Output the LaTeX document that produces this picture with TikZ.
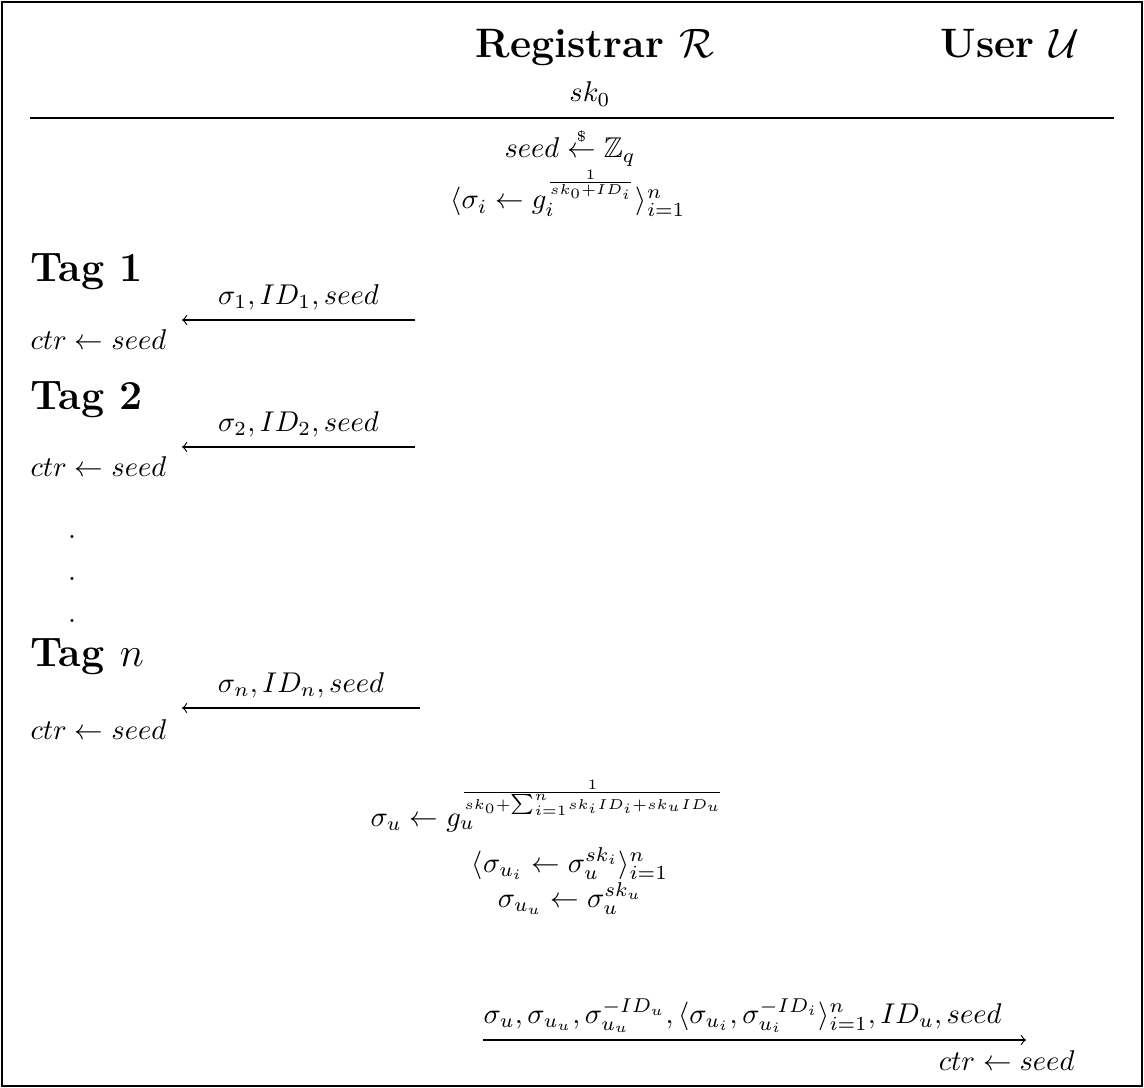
\documentclass[tikz,border=0pt]{standalone}
\usepackage{amsmath, amssymb}
\usepackage{tikz}
\usetikzlibrary{positioning}

\begin{document}
\begin{tikzpicture}[x=0.35pt, y=-0.35pt]
    % Styles
    \tikzstyle{party} = [font=\Large\bfseries, anchor=base, inner sep=0pt]
    \tikzstyle{tagname} = [font=\Large\bfseries, anchor=base west, inner sep=0pt]
    \tikzstyle{comp} = [anchor=base, inner sep=0pt]
    \tikzstyle{msg} = [line width=0.4pt]

    \useasboundingbox (0,0) rectangle (1144,1088);
    \draw[line width=0.7pt] (2,2) rectangle (1142,1086);

    % Nodes: Parties
    \node[party] (reg) at (595,58) {Registrar $\mathcal{R}$};
    \node[party] (usr) at (1010,58) {User $\mathcal{U}$};
    \node[comp] (sk) at (590,102) {$sk_0$};
    \draw (30,118) -- (1114,118);

    % Setup
    \node[comp] (seed) at (570,158) {$seed \overset{\scriptscriptstyle\$}{\leftarrow} \mathbb{Z}_q$};
    \node[comp] (sig) at (568,209) {$\langle \sigma_i \leftarrow g_i^{\frac{1}{sk_0+ID_i}} \rangle_{i=1}^{n}$};

    % Tags
    \node[tagname] (tag1) at (30,282) {Tag 1};
    \coordinate (r1) at (415,320);
    \coordinate (l1) at (182,320);
    \draw[msg, ->] (r1) -- node[above=0pt] (m1) {$\sigma_1, ID_1, seed$} (l1);
    \node[comp, anchor=base west] (c1) at (30,350) {$ctr \leftarrow seed$};

    \node[tagname] (tag2) at (30,410) {Tag 2};
    \coordinate (r2) at (415,447);
    \coordinate (l2) at (182,447);
    \draw[msg, ->] (r2) -- node[above=0pt] (m2) {$\sigma_2, ID_2, seed$} (l2);
    \node[comp, anchor=base west] (c2) at (30,477) {$ctr \leftarrow seed$};

    \node[comp] (d1) at (72,539) {.};
    \node[comp] (d2) at (72,581) {.};
    \node[comp] (d3) at (72,623) {.};

    \node[tagname] (tagn) at (30,667) {Tag $n$};
    \coordinate (rn) at (420,708);
    \coordinate (ln) at (182,708);
    \draw[msg, ->] (rn) -- node[above=0pt] (mn) {$\sigma_n, ID_n, seed$} (ln);
    \node[comp, anchor=base west] (cn) at (30,739) {$ctr \leftarrow seed$};

    % User keys
    \node[comp, anchor=base west] (su) at (370,826) {$\sigma_u \leftarrow g_u^{\frac{1}{\rule[-2.5pt]{0pt}{0pt}sk_0+{\scriptstyle\sum_{i=1}^{n}} sk_i ID_i + sk_u ID_u}}$};
    \node[comp] (sui) at (570,872) {$\langle \sigma_{u_i} \leftarrow \sigma_u^{sk_i} \rangle_{i=1}^{n}$};
    \node[comp] (suu) at (570,907) {$\sigma_{u_u} \leftarrow \sigma_u^{sk_u}$};

    % Message to user
    \coordinate (ru) at (483,1040);
    \coordinate (lu) at (1026,1040);
    \draw[msg, ->] (ru) -- (lu);
    \node[comp, anchor=base west] (mu) at (483,1023) {$\sigma_u, \sigma_{u_u}, \sigma_{u_u}^{-ID_u}, \langle \sigma_{u_i}, \sigma_{u_i}^{-ID_i} \rangle_{i=1}^{n}, ID_u, seed$};
    \node[comp, anchor=base east] (cu) at (1075,1070) {$ctr \leftarrow seed$};
\end{tikzpicture}
\end{document}
